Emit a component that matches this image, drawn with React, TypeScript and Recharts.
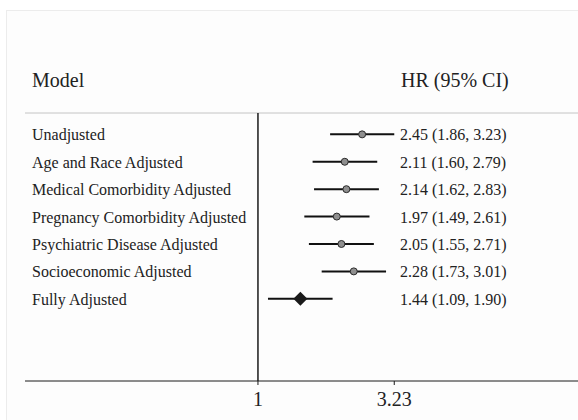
import React from 'react';
import {
  ScatterChart,
  Scatter,
  XAxis,
  YAxis,
  ErrorBar,
  ReferenceLine,
} from 'recharts';

// models, top to bottom
const models = [
  'Unadjusted',
  'Age and Race Adjusted',
  'Medical Comorbidity Adjusted',
  'Pregnancy Comorbidity Adjusted',
  'Psychiatric Disease Adjusted',
  'Socioeconomic Adjusted',
  'Fully Adjusted',
];
const hr = [2.45, 2.11, 2.14, 1.97, 2.05, 2.28, 1.44];
const lower = [1.86, 1.6, 1.62, 1.49, 1.55, 1.73, 1.09];
const upper = [3.23, 2.79, 2.83, 2.61, 2.71, 3.01, 1.9];
const summary = [false, false, false, false, false, false, true];
const xTicks = [1, 3.23];

const rows = models.map((model, i) => ({
  model,
  row: i + 1,
  hr: hr[i],
  err: [hr[i] - lower[i], upper[i] - hr[i]],
  label: `${hr[i].toFixed(2)} (${lower[i].toFixed(2)}, ${upper[i].toFixed(2)})`,
  summary: summary[i],
}));

const FONT = '"Liberation Serif", "Times New Roman", serif';

const renderRowTick = (props: any) => {
  const v = props?.payload?.value;
  const r = rows.find((d) => d.row === Number(v));
  if (!r) return <g />;
  return (
    <g key={`row-${r.row}`}>
      <text x={32} y={props.y} dy={6} fontFamily={FONT} fontSize={16} fill="#222">
        {r.model}
      </text>
      <text x={400} y={props.y} dy={6} fontFamily={FONT} fontSize={16} fill="#222">
        {r.label}
      </text>
    </g>
  );
};

const Marker = (props: any) => {
  const { cx, cy, payload } = props;
  if (payload.summary) {
    const s = 7;
    return (
      <polygon
        points={`${cx - s},${cy} ${cx},${cy - s} ${cx + s},${cy} ${cx},${cy + s}`}
        fill="#1a1a1a"
      />
    );
  }
  return <circle cx={cx} cy={cy} r={3.5} fill="#8f8f8f" stroke="#2a2a2a" strokeWidth={1} />;
};

export default function App() {
  return (
    <div style={{ position: 'absolute', left: 0, top: 0, width: 578, height: 420, background: '#fff', overflow: 'hidden' }}>
      <div
        style={{
          position: 'absolute',
          left: 6,
          top: 10,
          right: 0,
          bottom: 0,
          borderLeft: '1px solid #ececec',
          borderTop: '1px solid #ececec',
          background: '#fdfdfd',
        }}
      />
      <svg width={578} height={420} style={{ position: 'absolute', left: 0, top: 0 }}>
        <text x={32} y={87} fontFamily={FONT} fontSize={20} fill="#222">
          Model
        </text>
        <text x={401} y={87} fontFamily={FONT} fontSize={20} fill="#222">
          HR (95% CI)
        </text>
      </svg>
      <div style={{ position: 'absolute', left: 0, top: 0 }}>
        <ScatterChart width={578} height={420} margin={{ top: 113, right: 0, bottom: 9, left: 24 }}>
          <XAxis
            type="number"
            dataKey="hr"
            scale="log"
            domain={[0.1348, 15.69]}
            allowDataOverflow
            ticks={xTicks}
            tickFormatter={(v) => String(v)}
            height={30}
            stroke="#1a1a1a"
            tickSize={4}
            tickMargin={7}
            tick={{ fontFamily: FONT, fontSize: 20, fill: '#222' }}
          />
          <YAxis
            type="number"
            dataKey="row"
            reversed
            domain={[0.22, 10.0]}
            allowDataOverflow
            ticks={[1, 2, 3, 4, 5, 6, 7]}
            interval={0}
            width={1}
            axisLine={false}
            tickLine={false}
            tick={renderRowTick}
          />
          <ReferenceLine y={0.22} stroke="#c4c4c4" strokeWidth={1} />
          <ReferenceLine x={1} stroke="#1a1a1a" strokeWidth={1.5} />
          <Scatter data={rows} shape={<Marker />} isAnimationActive={false}>
            <ErrorBar dataKey="err" direction="x" width={0} stroke="#111" strokeWidth={2} />
          </Scatter>
        </ScatterChart>
      </div>
    </div>
  );
}
